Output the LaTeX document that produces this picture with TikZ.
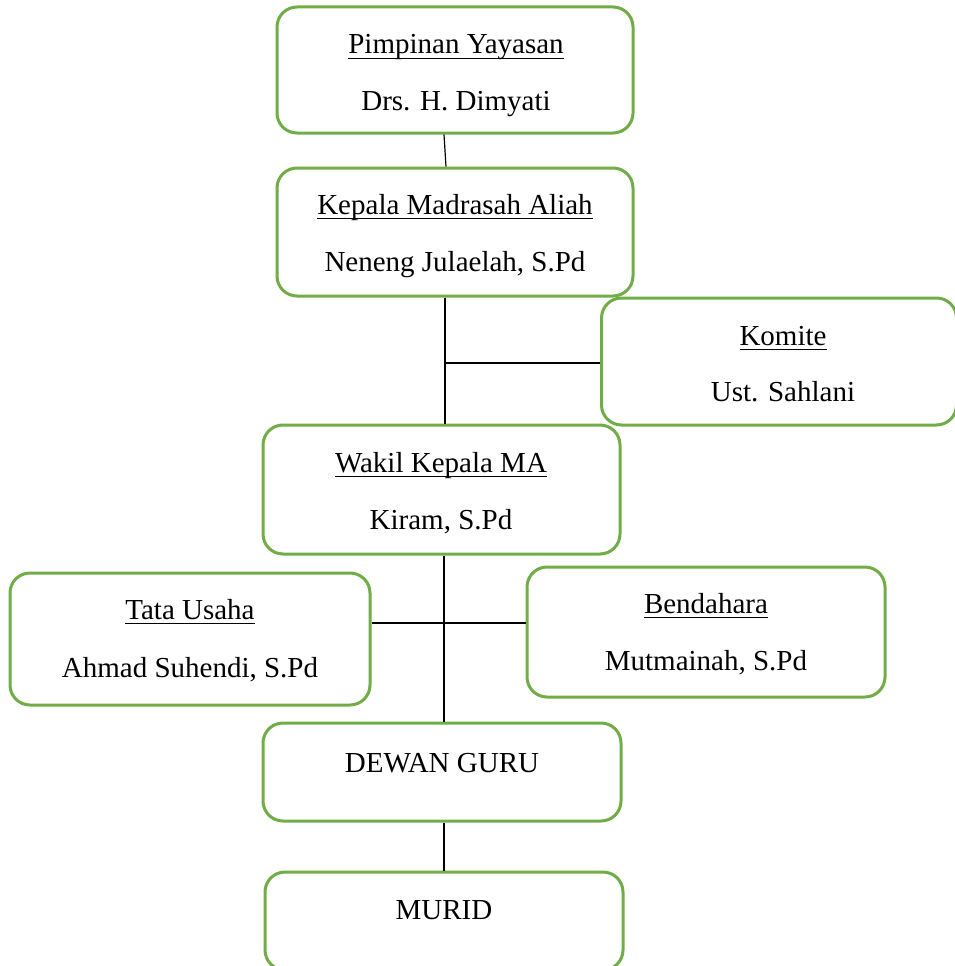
\documentclass[tikz,border=0pt]{standalone}
\usepackage{fontspec}
\setmainfont{Liberation Serif}
\newcommand\myul[1]{\setbox0\hbox{#1}\rlap{\rule[-5.3pt]{\wd0}{1.8pt}}\box0}
\definecolor{boxgreen}{RGB}{112,173,71}
\begin{document}
\begin{tikzpicture}[x=1pt,y=-1pt,
  box/.style={draw=boxgreen, line width=3pt, rounded corners=20pt, rectangle, inner sep=0pt},
  lbl/.style={anchor=base, inner sep=0pt, font=\fontsize{29}{35}\selectfont},
  conn/.style={draw=black, line width=1.2pt}]
\useasboundingbox (0,0) rectangle (955,966);
% boxes
\node[box, minimum width=356pt, minimum height=126pt] (pim) at (455,70) {};
\node[box, minimum width=356pt, minimum height=128pt] (kep) at (455,232) {};
\node[box, minimum width=355pt, minimum height=127pt] (kom) at (779,361.5) {};
\node[box, minimum width=357pt, minimum height=129pt] (wak) at (441.5,489.5) {};
\node[box, minimum width=360pt, minimum height=132pt] (tat) at (190,639) {};
\node[box, minimum width=358pt, minimum height=130pt] (ben) at (706,632) {};
\node[box, minimum width=358pt, minimum height=98pt] (dew) at (442,772) {};
\node[box, minimum width=358pt, minimum height=98pt] (mur) at (444,921) {};
% texts
\node[lbl] (pim1) at (456,54) {\myul{Pimpinan Yayasan}};
\node[lbl] (pim2) at (456,110) {Drs. H. Dimyati};
\node[lbl] (kep1) at (455,214) {\myul{Kepala Madrasah Aliah}};
\node[lbl] (kep2) at (455,271) {Neneng Julaelah, S.Pd};
\node[lbl] (kom1) at (783,345) {\myul{Komite}};
\node[lbl] (kom2) at (783,401) {Ust. Sahlani};
\node[lbl] (wak1) at (441,472) {\myul{Wakil Kepala MA}};
\node[lbl] (wak2) at (441,529) {Kiram, S.Pd};
\node[lbl] (tat1) at (190,619) {\myul{Tata Usaha}};
\node[lbl] (tat2) at (190,677) {Ahmad Suhendi, S.Pd};
\node[lbl] (ben1) at (706,613) {\myul{Bendahara}};
\node[lbl] (ben2) at (706,670) {Mutmainah, S.Pd};
\node[lbl] (dew1) at (442,772) {DEWAN GURU};
\node[lbl] (mur1) at (444,919) {MURID};
% connector helpers
\coordinate (sa) at (444,0);
\coordinate (sb) at (446,0);
\coordinate (sc) at (445,0);
\coordinate (hk) at (445,363);
\coordinate (ht) at (444,623);
% connectors
\draw[conn] (pim.south -| sa) -- (kep.north -| sb);
\draw[conn] (kep.south -| sc) -- (wak.north -| sc);
\draw[conn] (hk) -- (kom.west |- hk);
\draw[conn] (wak.south -| sa) -- (dew.north -| sa);
\draw[conn] (tat.east |- ht) -- (ben.west |- ht);
\draw[conn] (dew.south -| sa) -- (mur.north -| sa);
\end{tikzpicture}
\end{document}
